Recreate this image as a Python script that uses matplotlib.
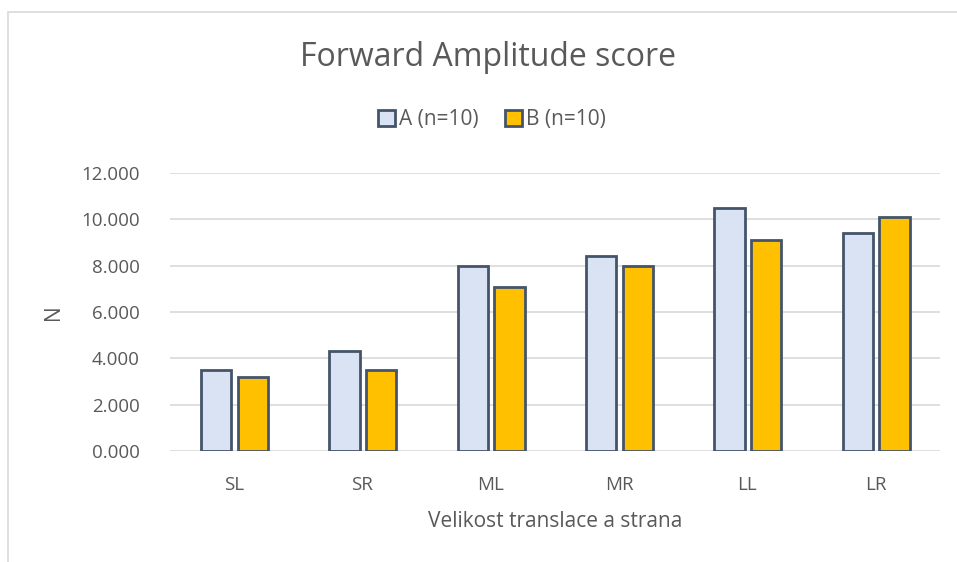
import numpy as np
import matplotlib.pyplot as plt
from matplotlib.patches import Rectangle

categories = ['SL', 'SR', 'ML', 'MR', 'LL', 'LR']
group_a = [3.5, 4.3, 8.0, 8.4, 10.5, 9.4]
group_b = [3.2, 3.5, 7.1, 8.0, 9.1, 10.1]
labels = ['A (n=10)', 'B (n=10)']
yticks = [0, 2, 4, 6, 8, 10, 12]

plt.rcParams['font.family'] = ['Open Sans', 'DejaVu Sans']
text_col = '#595959'
edge_col = '#44546A'

fig = plt.figure(figsize=(9.57, 5.62), dpi=100)
ax = fig.add_axes([170 / 957, 111 / 562, 770 / 957, 278 / 562])

# chart border like the spreadsheet frame
fig.patches.append(Rectangle((8 / 957, -0.01), 1.0, (562 - 12) / 562 + 0.01,
                             transform=fig.transFigure, fill=False,
                             edgecolor='#D9D9D9', linewidth=1.2))

X = np.arange(len(categories))
w = 0.235
ax.bar(X - 0.14, group_a, w, color='#DAE3F3', edgecolor=edge_col, linewidth=2, label=labels[0], zorder=3)
ax.bar(X + 0.145, group_b, w, color='#FFC000', edgecolor=edge_col, linewidth=2, label=labels[1], zorder=3)

ax.set_xlim(-0.5, len(categories) - 0.5)
ax.set_ylim(0, 12)
ax.set_yticks(yticks)
ax.set_yticklabels(['%d.000' % v for v in yticks])
ax.set_xticks(X)
ax.set_xticklabels(categories)
ax.grid(axis='y', color='#D9D9D9', linewidth=1.2, zorder=0)
for s in ax.spines.values():
    s.set_visible(False)
ax.tick_params(length=0, labelsize=13.5, colors=text_col)
ax.tick_params(axis='y', pad=22)
ax.tick_params(axis='x', pad=18)

ax.set_ylabel('N', fontsize=15, color=text_col, labelpad=12)
ax.set_xlabel('Velikost translace a strana', fontsize=15, color=text_col, labelpad=12)

fig.text(488 / 957, 1 - 58 / 562, 'Forward Amplitude score', ha='center', va='center',
         fontsize=23, color=text_col)

handles = [Rectangle((0, 0), 1, 1, facecolor='#DAE3F3', edgecolor=edge_col, linewidth=2),
           Rectangle((0, 0), 1, 1, facecolor='#FFC000', edgecolor=edge_col, linewidth=2)]
leg = fig.legend(handles, labels, loc='center', bbox_to_anchor=(492 / 957, 1 - 120 / 562),
                 ncol=2, frameon=False, fontsize=15, handlelength=0.8, handleheight=0.8,
                 handletextpad=0.2, columnspacing=1.3, labelcolor=text_col)

plt.savefig('out.png', dpi=100)
